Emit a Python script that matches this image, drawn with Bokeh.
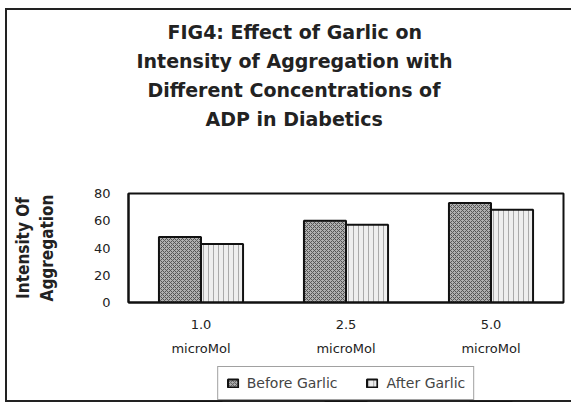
from bokeh.plotting import figure
from bokeh.models import ColumnDataSource, Legend, LegendItem, Title, FactorRange, Range1d
from bokeh.transform import dodge
from bokeh.layouts import column
from bokeh.embed import file_html
from bokeh.resources import INLINE

categories = ["1.0\nmicroMol", "2.5\nmicroMol", "5.0\nmicroMol"]
before_garlic = [48, 60, 73]
after_garlic = [43, 57, 68]
title_lines = [
    "FIG4: Effect of Garlic on",
    "Intensity of Aggregation with",
    "Different Concentrations of",
    "ADP in Diabetics",
]
title_offsets = [39, 8, 19, 77]
legend_labels = ["Before Garlic", "After Garlic"]
y_ticks = [0, 20, 40, 60, 80]

before_style = dict(fill_color="#b0b0b0", hatch_pattern="x", hatch_scale=4, hatch_color="#555",
                    hatch_weight=1, line_color="#111", line_width=2)
after_style = dict(fill_color="#eeeeee", hatch_pattern="|", hatch_scale=5, hatch_color="#aaa",
                   hatch_weight=1, line_color="#111", line_width=2)

src = ColumnDataSource(dict(cat=categories, before=before_garlic, after=after_garlic))

p = figure(width=571, height=364, x_range=FactorRange(*categories), y_range=(0, 80),
           output_backend="svg", toolbar_location=None,
           min_border_left=128, min_border_right=8, min_border_top=193, min_border_bottom=62)
p.border_fill_color = None

p.title.text = ""
p.add_layout(Title(text=" ", text_font_size="47px", standoff=6), "above")
for line, off in reversed(list(zip(title_lines, title_offsets))):
    p.add_layout(Title(text=line, align="left", offset=off, text_font="DejaVu Sans",
                       text_font_style="bold", text_font_size="19px", standoff=5,
                       text_color="#222"), "above")

r1 = p.vbar(x=dodge("cat", -0.145, range=p.x_range), top="before", width=0.29, source=src,
            **before_style)
r2 = p.vbar(x=dodge("cat", 0.145, range=p.x_range), top="after", width=0.29, source=src,
            **after_style)

p.xgrid.grid_line_color = None
p.ygrid.grid_line_color = None
p.outline_line_color = "#111"
p.outline_line_width = 2

p.yaxis.ticker = y_ticks
p.yaxis.axis_label = "Intensity Of\nAggregation"
p.yaxis.axis_label_text_font = "DejaVu Sans Condensed"
p.yaxis.axis_label_text_font_style = "bold"
p.yaxis.axis_label_text_font_size = "17px"
p.yaxis.axis_label_text_color = "#222"
p.yaxis.axis_label_standoff = 34
for ax in (p.xaxis, p.yaxis):
    ax.major_tick_in = 0
    ax.major_tick_out = 0
    ax.minor_tick_in = 0
    ax.minor_tick_out = 0
    ax.axis_line_color = "#111"
    ax.axis_line_width = 2
    ax.major_label_text_font = "DejaVu Sans"
    ax.major_label_text_font_size = "13px"
    ax.major_label_text_color = "#222"
p.yaxis.major_label_standoff = 18
p.xaxis.major_label_standoff = 14
p.xaxis.major_label_text_line_height = 1.6

# legend strip below the chart (its bars fall outside its own view)
lg = figure(width=571, height=38, x_range=FactorRange(*categories), y_range=Range1d(100, 101),
            output_backend="svg", toolbar_location=None,
            x_axis_location=None, y_axis_location=None,
            min_border_left=0, min_border_right=0, min_border_top=0, min_border_bottom=0)
lg.border_fill_color = None
lg.background_fill_color = None
lg.outline_line_color = None
lg.grid.grid_line_color = None
lg.title.text = ""
e1 = lg.vbar(x="cat", top="before", width=0.29, source=src, **before_style)
e2 = lg.vbar(x="cat", top="after", width=0.29, source=src, **after_style)
legend = Legend(items=[LegendItem(label=legend_labels[0], renderers=[e1]),
                       LegendItem(label=legend_labels[1], renderers=[e2])],
                orientation="horizontal", location="bottom_center",
                border_line_color="#444", border_line_width=1,
                label_text_font="DejaVu Sans", label_text_font_size="14px",
                glyph_width=13, glyph_height=10, spacing=28, padding=8, margin=2,
                label_standoff=8)
lg.add_layout(legend, "center")

layout = column(p, lg, spacing=0)
layout.styles = {"box-shadow": "inset 5px 8px 0 #fff, inset 7px 10px 0 #222, inset 0 -2px 0 #222"}

open("out.html", "w").write(file_html(layout, INLINE))
